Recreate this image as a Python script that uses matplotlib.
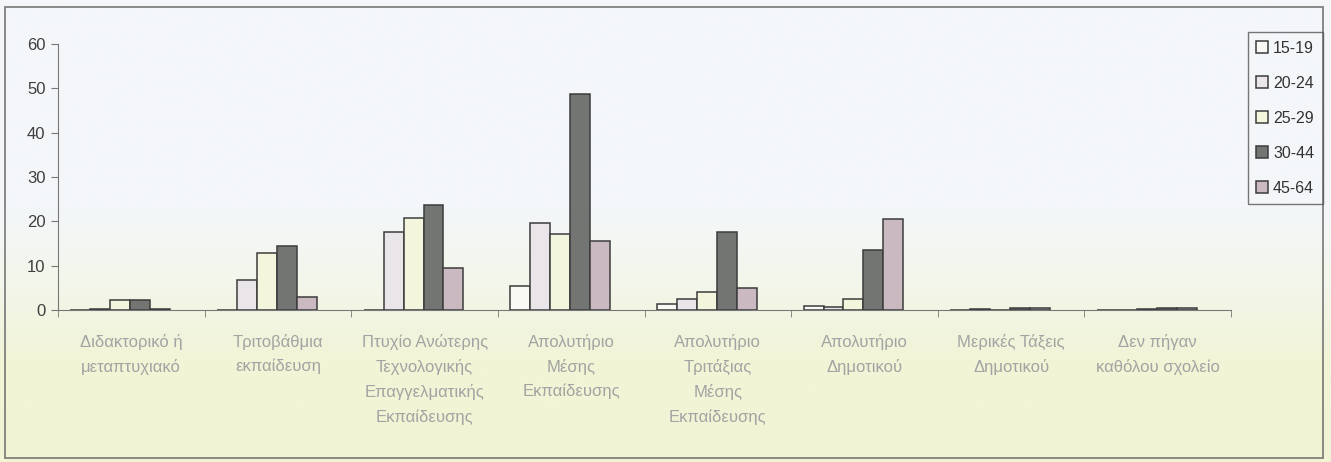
import matplotlib.pyplot as plt
import numpy as np
from matplotlib.patches import Rectangle
from matplotlib.colors import LinearSegmentedColormap

plt.rcParams['font.family'] = ['Liberation Sans', 'DejaVu Sans']

# --- data ---
categories = [
    "Διδακτορικό ή\nμεταπτυχιακό",
    "Τριτοβάθμια\nεκπαίδευση",
    "Πτυχίο Ανώτερης\nΤεχνολογικής\nΕπαγγελματικής\nΕκπαίδευσης",
    "Απολυτήριο\nΜέσης\nΕκπαίδευσης",
    "Απολυτήριο\nΤριτάξιας\nΜέσης\nΕκπαίδευσης",
    "Απολυτήριο\nΔημοτικού",
    "Μερικές Τάξεις\nΔημοτικού",
    "Δεν πήγαν\nκαθόλου σχολείο",
]
age_groups = ["15-19", "20-24", "25-29", "30-44", "45-64"]
v_15_19 = [0.0, 0.0, 0.0, 5.5, 1.3, 0.9, 0.0, 0.0]
v_20_24 = [0.3, 6.8, 17.5, 19.6, 2.4, 0.7, 0.3, 0.0]
v_25_29 = [2.3, 12.9, 20.7, 17.1, 4.0, 2.5, 0.1, 0.3]
v_30_44 = [2.3, 14.4, 23.7, 48.7, 17.5, 13.6, 0.5, 0.4]
v_45_64 = [0.3, 3.0, 9.4, 15.6, 4.9, 20.5, 0.5, 0.5]
series = [v_15_19, v_20_24, v_25_29, v_30_44, v_45_64]

colors = ["#f8f8f4", "#e9e5e9", "#f3f5dc", "#737573", "#cbb9c1"]

W, H = 1331, 462
fig = plt.figure(figsize=(W / 100, H / 100), dpi=100)

# background gradient (scan look: bluish top, yellowish bottom)
bg = fig.add_axes([0, 0, 1, 1], zorder=-10)
cmap = LinearSegmentedColormap.from_list(
    "bg", [(0.0, "#f1f4d4"), (0.22, "#f1f4d6"), (0.38, "#f3f6ea"), (0.55, "#f4f7f9"), (1.0, "#f4f7fb")])
grad = np.linspace(0, 1, 256).reshape(-1, 1)
bg.imshow(grad, aspect="auto", cmap=cmap, origin="lower", extent=[0, 1, 0, 1])
bg.set_axis_off()

# --- main axes ---
x0, x1, y0, y1 = 58, 1231, 310, 44
ax = fig.add_axes([x0 / W, 1 - y0 / H, (x1 - x0) / W, (y0 - y1) / H])
ax.patch.set_alpha(0)

n = len(categories)
bw = 0.136
centers = np.arange(n) + 0.5 - 0.075
for i, (vals, col) in enumerate(zip(series, colors)):
    ax.bar(centers + (i - 2) * bw, vals, width=bw, color=col,
           edgecolor="#3c3c3c", linewidth=1.1, label=age_groups[i])

ax.set_xlim(0, n)
ax.set_ylim(0, 60)
ax.set_yticks(np.arange(0, 61, 10))
ax.set_xticks(np.arange(n + 1), minor=True)
ax.set_xticks(np.arange(n) + 0.5)
ax.set_xticklabels(categories, fontsize=12, color="#a3a3a3", linespacing=1.72, va="top")
ax.tick_params(axis="x", which="major", length=0, pad=17)
ax.tick_params(axis="x", which="minor", length=5, color="#777777", direction="out")
ax.tick_params(axis="y", length=5, color="#777777", labelsize=12, labelcolor="#3f3f3f", pad=4)
for s in ["top", "right"]:
    ax.spines[s].set_visible(False)
ax.spines["left"].set_color("#777777")
ax.spines["bottom"].set_color("#777777")

# legend
leg = fig.legend(loc="upper right", bbox_to_anchor=(1323 / W, 1 - 32 / H),
                 fontsize=11.5, frameon=True, fancybox=False, handlelength=0.75,
                 handleheight=0.75, handletextpad=0.3, labelspacing=1.25,
                 borderpad=0.55, borderaxespad=0)
leg.get_frame().set_edgecolor("#555555")
leg.get_frame().set_facecolor("none")
leg.get_frame().set_linewidth(1.0)
for t in leg.get_texts():
    t.set_color("#333333")

# outer frame
fig.add_artist(Rectangle((5 / W, 1 - 458 / H), (1323 - 5) / W, (458 - 7) / H,
                         transform=fig.transFigure, fill=False,
                         edgecolor="#777777", linewidth=1.2))

fig.savefig("out.png", dpi=100)
